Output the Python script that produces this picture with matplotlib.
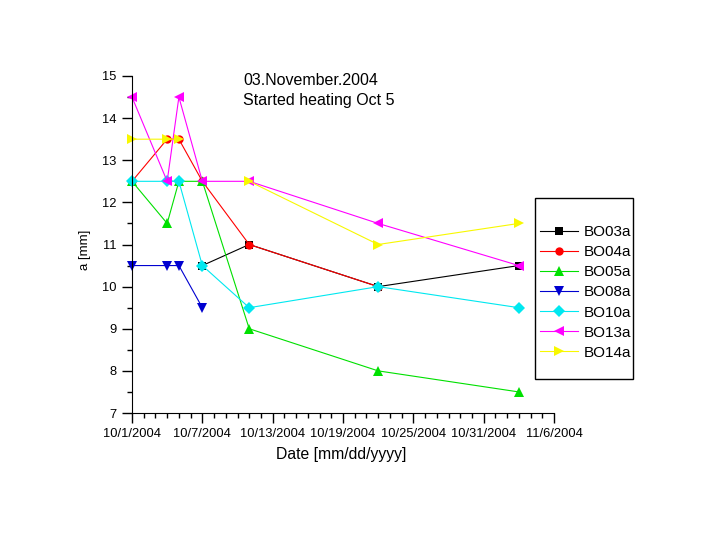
import matplotlib
matplotlib.use("Agg")
import matplotlib.pyplot as plt
from matplotlib.patches import Rectangle
from matplotlib.ticker import MultipleLocator
import numpy as np
from datetime import datetime, timedelta

plt.rcParams['font.family'] = ['Liberation Sans', 'DejaVu Sans']

dates = ["2004-10-01", "2004-10-04", "2004-10-05", "2004-10-07",
         "2004-10-11", "2004-10-22", "2004-11-03"]
nan = np.nan
BO03a = [nan, nan, nan, 10.5, 11.0, 10.0, 10.5]
BO04a = [12.5, 13.5, 13.5, 12.5, 11.0, 10.0, nan]
BO05a = [12.5, 11.5, 12.5, 12.5, 9.0, 8.0, 7.5]
BO08a = [10.5, 10.5, 10.5, 9.5, nan, nan, nan]
BO10a = [12.5, 12.5, 12.5, 10.5, 9.5, 10.0, 9.5]
BO13a = [14.5, 12.5, 14.5, 12.5, 12.5, 11.5, 10.5]
BO14a = [13.5, 13.5, 13.5, nan, 12.5, 11.0, 11.5]

series = [
    ("BO03a", BO03a, "black", "s"),
    ("BO04a", BO04a, "#ff0000", "o"),
    ("BO05a", BO05a, "#00e000", "^"),
    ("BO08a", BO08a, "#0000d0", "v"),
    ("BO10a", BO10a, "#00e8f0", "D"),
    ("BO13a", BO13a, "#ff00ff", "<"),
    ("BO14a", BO14a, "#f8f800", ">"),
]

x = [datetime.strptime(d, "%Y-%m-%d") for d in dates]

fig = plt.figure(figsize=(7.2, 5.4), dpi=100)
ax = fig.add_axes([132/720, 1-413/540, (554-132)/720, (413-76)/540])

for name, vals, col, mk in series:
    ms = 6 if mk in ("D", "s", "o") else 7
    ax.plot(x, vals, color=col, marker=mk, markersize=ms, linewidth=0.8,
            markeredgewidth=0, label=name, clip_on=False)

ax.set_xlim(datetime(2004, 10, 1), datetime(2004, 11, 6))
ax.set_ylim(7, 15)
ax.spines['top'].set_visible(False)
ax.spines['right'].set_visible(False)
major = [datetime(2004, 10, 1) + timedelta(days=6*i) for i in range(7)]
ax.set_xticks(major)
ax.set_xticklabels([f"{d.month}/{d.day}/{d.year}" for d in major])
ax.set_xticks([datetime(2004, 10, 1) + timedelta(days=i) for i in range(37)], minor=True)
ax.yaxis.set_major_locator(MultipleLocator(1))
ax.yaxis.set_minor_locator(MultipleLocator(0.5))
ax.tick_params(axis='both', which='major', length=7, width=1, labelsize=9.3, direction='out')
ax.tick_params(axis='y', which='major', pad=4)
ax.tick_params(axis='both', which='minor', length=3.5, width=1, direction='out')
ax.set_xlabel("Date [mm/dd/yyyy]", fontsize=11.3)
ax.set_ylabel("a [mm]", fontsize=9.5)
ax.xaxis.set_label_coords((341.5-132)/422, (413-447)/337)
ax.yaxis.set_label_coords((91-132)/422, (413-250)/337)

fig.text(243/720, 1-73/540, "03.November.2004\nStarted heating Oct 5", fontsize=11.5,
         va='top', ha='left', linespacing=1.42)

fig.patches.append(Rectangle((535/720, 1-379/540), (633-535)/720, (379-198)/540,
                             transform=fig.transFigure, facecolor='none',
                             edgecolor='black', linewidth=1))
leg = ax.legend(loc='center left', bbox_to_anchor=(540/720, 1-292.5/540),
                bbox_transform=fig.transFigure, borderaxespad=0, borderpad=0,
                fontsize=11, frameon=False, handlelength=2.5, numpoints=1,
                labelspacing=0.4, handletextpad=0.35)

fig.savefig("out.png", dpi=100)
